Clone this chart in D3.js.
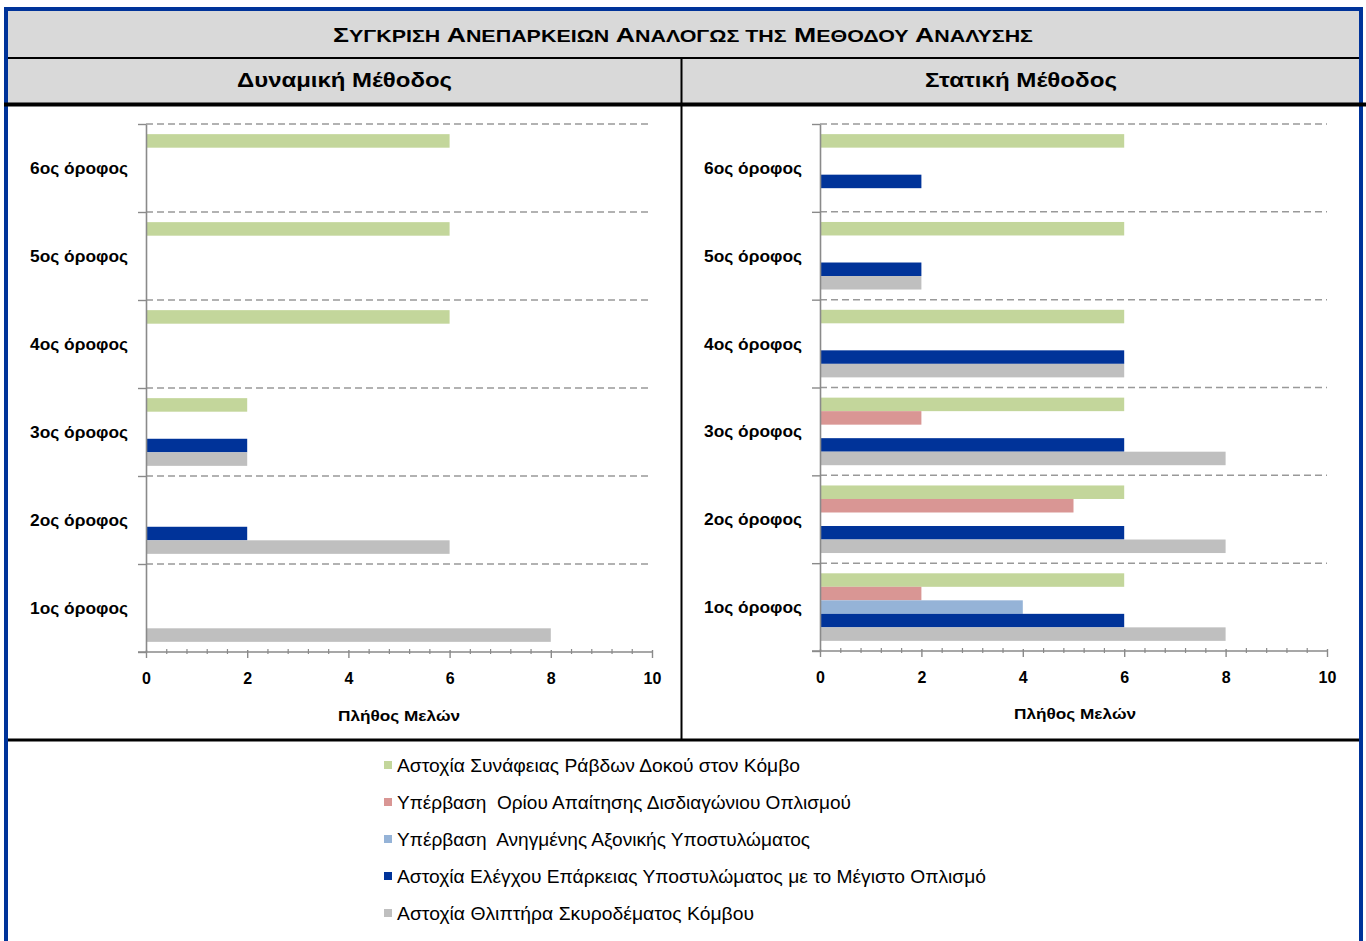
<!DOCTYPE html>
<html>
<head>
<meta charset="utf-8">
<script src="https://cdn.jsdelivr.net/npm/d3@7"></script>
<style>
  body { margin: 0; background: #fff; }
  svg { display: block; }
  text { font-family: "Liberation Sans", Arial, sans-serif; fill: #000; }
</style>
</head>
<body>
<svg id="chart" width="1366" height="941"></svg>
<script>
// ---- data -------------------------------------------------------------
const floors = ["1ος όροφος", "2ος όροφος", "3ος όροφος", "4ος όροφος", "5ος όροφος", "6ος όροφος"];

const seriesNames = [
  "Αστοχία Συνάφειας Ράβδων Δοκού στον Κόμβο",
  "Υπέρβαση  Ορίου Απαίτησης Δισδιαγώνιου Οπλισμού",
  "Υπέρβαση  Ανηγμένης Αξονικής Υποστυλώματος",
  "Αστοχία Ελέγχου Επάρκειας Υποστυλώματος με το Μέγιστο Οπλισμό",
  "Αστοχία Θλιπτήρα Σκυροδέματος Κόμβου"
];
const seriesColors = ["#c3d69b", "#d99694", "#95b3d7", "#003399", "#bfbfbf"];

// values per floor, 1st .. 6th
const dynamicBond   = [0, 0, 2, 6, 6, 6];
const dynamicShear  = [0, 0, 0, 0, 0, 0];
const dynamicAxial  = [0, 0, 0, 0, 0, 0];
const dynamicColumn = [0, 2, 2, 0, 0, 0];
const dynamicStrut  = [8, 6, 2, 0, 0, 0];

const staticBond    = [6, 6, 6, 6, 6, 6];
const staticShear   = [2, 5, 2, 0, 0, 0];
const staticAxial   = [4, 0, 0, 0, 0, 0];
const staticColumn  = [6, 6, 6, 6, 2, 2];
const staticStrut   = [8, 8, 8, 6, 2, 0];

const xTicks = [0, 2, 4, 6, 8, 10];
const panelTitles = ["Δυναμική Μέθοδος", "Στατική Μέθοδος"];
const axisTitle = "Πλήθος Μελών";
// title words: [large initial, small-caps remainder]
const titleWords = [["Σ", "ΥΓΚΡΙΣΗ"], ["Α", "ΝΕΠΑΡΚΕΙΩΝ"], ["Α", "ΝΑΛΟΓΩΣ"], ["", "ΤΗΣ"], ["Μ", "ΕΘΟΔΟΥ"], ["Α", "ΝΑΛΥΣΗΣ"]];

// ---- layout -----------------------------------------------------------
const W = 1366, H = 941;
const frameBlue = "#003399";
const headGray = "#d9d9d9";
const axisGray = "#8a8a8a";
const gridGray = "#999999";

const svg = d3.select("#chart");

// header bands
svg.append("rect").attr("x", 8).attr("y", 11).attr("width", 1351).attr("height", 47).attr("fill", headGray);
svg.append("rect").attr("x", 8).attr("y", 58).attr("width", 1351).attr("height", 45).attr("fill", headGray);

// title in small caps
const title = svg.append("text")
  .attr("x", 683).attr("y", 42)
  .attr("text-anchor", "middle")
  .attr("font-weight", "bold")
  .attr("textLength", 700).attr("lengthAdjust", "spacingAndGlyphs");
titleWords.forEach((w, i) => {
  if (w[0]) title.append("tspan").attr("font-size", 20.5).text((i ? " " : "") + w[0]);
  title.append("tspan").attr("font-size", 16.5).text((w[0] || !i ? "" : " ") + w[1]);
});

// panel headers
const panelCenters = [344.5, 1021];
const panelTitleWidths = [215, 192];
panelTitles.forEach((t, i) => {
  svg.append("text")
    .attr("x", panelCenters[i]).attr("y", 87)
    .attr("text-anchor", "middle")
    .attr("font-size", 20).attr("font-weight", "bold")
    .attr("textLength", panelTitleWidths[i]).attr("lengthAdjust", "spacingAndGlyphs")
    .text(t);
});

// ---- bar panels -------------------------------------------------------
const panels = [
  { series: [dynamicBond, dynamicShear, dynamicAxial, dynamicColumn, dynamicStrut], x0: 146, x1: 652, y0: 124, y1: 652, titleX: 399, titleY: 721 },
  { series: [staticBond, staticShear, staticAxial, staticColumn, staticStrut], x0: 820, x1: 1327, y0: 124, y1: 651, titleX: 1075, titleY: 719 }
];

panels.forEach(p => {
  const g = svg.append("g");
  const x = d3.scaleLinear().domain([0, 10]).range([p.x0, p.x1]);
  const y = d3.scaleBand().domain(floors).range([p.y1, p.y0]).paddingInner(0).paddingOuter(0);
  const ySlot = d3.scaleBand().domain(d3.range(seriesNames.length)).range([0, y.bandwidth()]).paddingInner(0).paddingOuter(0.75);
  const yEdge = d3.scaleLinear().domain([0, floors.length]).range([p.y1, p.y0]);

  // dashed separators between floors
  g.append("g").selectAll("line")
    .data(d3.range(1, floors.length + 1))
    .join("line")
    .attr("x1", p.x0).attr("x2", p.x1)
    .attr("y1", d => yEdge(d)).attr("y2", d => yEdge(d))
    .attr("stroke", gridGray).attr("stroke-width", 1.5)
    .attr("stroke-dasharray", "7,4");

  // bars
  const rows = [];
  p.series.forEach((vals, si) => vals.forEach((v, fi) => { if (v > 0) rows.push({ si, floor: floors[fi], v }); }));
  g.append("g").selectAll("rect")
    .data(rows)
    .join("rect")
    .attr("x", x(0) + 0.5)
    .attr("y", d => y(d.floor) + ySlot(d.si))
    .attr("width", d => x(d.v) - x(0) - 0.5)
    .attr("height", ySlot.bandwidth())
    .attr("fill", d => seriesColors[d.si]);

  // category axis: boundary ticks and vertical line
  const yAxis = g.append("g")
    .attr("transform", `translate(${p.x0},0)`)
    .call(d3.axisLeft(yEdge).tickValues(d3.range(0, floors.length + 1)).tickSize(8).tickSizeOuter(0).tickFormat(""));
  yAxis.selectAll("line").attr("stroke", axisGray).attr("stroke-width", 1.4);
  yAxis.select(".domain").attr("stroke", axisGray).attr("stroke-width", 1.6);

  // value axis line
  g.append("line")
    .attr("x1", p.x0 - 8).attr("x2", p.x1)
    .attr("y1", p.y1).attr("y2", p.y1)
    .attr("stroke", axisGray).attr("stroke-width", 1.6);

  // minor ticks
  const minor = d3.range(0, 10.001, 0.4).filter(v => Math.abs(v / 2 - Math.round(v / 2)) > 1e-6);
  const minorAxis = g.append("g")
    .attr("transform", `translate(0,${p.y1 - 3})`)
    .call(d3.axisBottom(x).tickValues(minor).tickSize(5).tickFormat(""));
  minorAxis.select(".domain").remove();
  minorAxis.selectAll("line").attr("stroke", axisGray).attr("stroke-width", 1.2);

  // major ticks and labels
  const majorAxis = g.append("g")
    .attr("transform", `translate(0,${p.y1 - 2})`)
    .call(d3.axisBottom(x).tickValues(xTicks).tickSize(8).tickPadding(15).tickFormat(d3.format("d")));
  majorAxis.select(".domain").remove();
  majorAxis.selectAll("line").attr("stroke", axisGray).attr("stroke-width", 1.4);
  majorAxis.selectAll("text")
    .attr("font-family", "\"Liberation Sans\", Arial, sans-serif")
    .attr("font-size", 16).attr("font-weight", "bold").attr("fill", "#000");

  // floor labels
  g.append("g").selectAll("text")
    .data(floors)
    .join("text")
    .attr("x", p.x0 - 18)
    .attr("y", d => y(d) + y.bandwidth() / 2 + 6)
    .attr("text-anchor", "end")
    .attr("font-size", 17).attr("font-weight", "bold")
    .attr("textLength", 98).attr("lengthAdjust", "spacingAndGlyphs")
    .text(d => d);

  // axis title
  g.append("text")
    .attr("x", p.titleX).attr("y", p.titleY)
    .attr("text-anchor", "middle")
    .attr("font-size", 15).attr("font-weight", "bold")
    .attr("textLength", 122).attr("lengthAdjust", "spacingAndGlyphs")
    .text(axisTitle);
});

// ---- legend -----------------------------------------------------------
const legendWidths = [403, 454, 413, 589, 357];
const legendY = d3.scalePoint().domain(d3.range(seriesNames.length)).range([765, 913]);
const legend = svg.append("g").selectAll("g")
  .data(seriesNames)
  .join("g")
  .attr("transform", (d, i) => `translate(384,${legendY(i)})`);
legend.append("rect").attr("x", 0).attr("y", -4).attr("width", 8).attr("height", 8)
  .attr("fill", (d, i) => seriesColors[i]);
legend.append("text").attr("x", 13).attr("y", 6.5)
  .attr("font-size", 18)
  .attr("textLength", (d, i) => legendWidths[i]).attr("lengthAdjust", "spacingAndGlyphs")
  .attr("xml:space", "preserve")
  .style("white-space", "pre")
  .text(d => d);

// ---- frame lines ------------------------------------------------------
svg.append("line").attr("x1", 8).attr("x2", 1359).attr("y1", 58).attr("y2", 58).attr("stroke", "#000").attr("stroke-width", 2);
svg.append("line").attr("x1", 681.5).attr("x2", 681.5).attr("y1", 58).attr("y2", 740).attr("stroke", "#000").attr("stroke-width", 2);
svg.append("line").attr("x1", 8).attr("x2", 1359).attr("y1", 740).attr("y2", 740).attr("stroke", "#000").attr("stroke-width", 3);
svg.append("rect").attr("x", 6).attr("y", 9).attr("width", 1355).attr("height", 1000)
  .attr("fill", "none").attr("stroke", frameBlue).attr("stroke-width", 4);
svg.append("line").attr("x1", 4).attr("x2", W).attr("y1", 104.5).attr("y2", 104.5).attr("stroke", "#000").attr("stroke-width", 4);
</script>
</body>
</html>
